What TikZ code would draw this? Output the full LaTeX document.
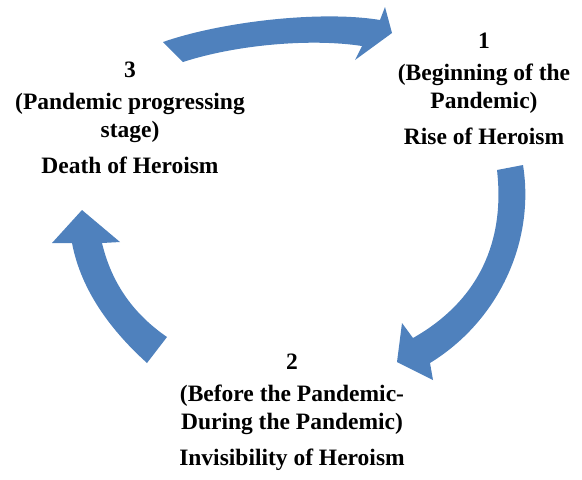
\documentclass[tikz,border=0pt]{standalone}
\usepackage{fontspec}
\setmainfont{Liberation Serif}
\definecolor{cycleblue}{HTML}{4F81BD}

\begin{document}
\begin{tikzpicture}[x=0.5pt,y=-0.5pt,
  stagetext/.style={font=\bfseries\fontsize{11.75}{14}\selectfont,align=center,inner sep=0pt,anchor=north}]
  \useasboundingbox (0,0) rectangle (582,479);
  % arrow 3 -> 1, across the top
  \fill[cycleblue] (163,42) .. controls (220,22) and (320,10) .. (380,20) -- (385,7) -- (392,33) -- (355,60) -- (362,46)
     .. controls (310,38) and (235,45) .. (183,62) -- cycle;
  % arrow 1 -> 2, down the right side
  \fill[cycleblue] (497,170) -- (523,165) .. controls (535,240) and (500,320) .. (430,363) -- (433,380) -- (397,362) -- (402,323)
     -- (413,338) .. controls (480,300) and (505,240) .. (497,170) -- cycle;
  % arrow 2 -> 3, up the left side
  \fill[cycleblue] (147,363) .. controls (105,325) and (80,285) .. (72,243) -- (52,243) -- (82,210) -- (120,242) -- (102,243)
     .. controls (112,285) and (135,315) .. (167,337) -- cycle;
  % stage texts
  \node[stagetext] (stage1) at (484,33) {1\\[2pt](Beginning of the\\Pandemic)\\[4pt]Rise of Heroism};
  \node[stagetext] (stage2) at (292,354) {2\\[2pt](Before the Pandemic-\\During the Pandemic)\\[4pt]Invisibility of Heroism};
  \node[stagetext] (stage3) at (130,62) {3\\[2pt](Pandemic progressing\\stage)\\[4pt]Death of Heroism};
\end{tikzpicture}
\end{document}
